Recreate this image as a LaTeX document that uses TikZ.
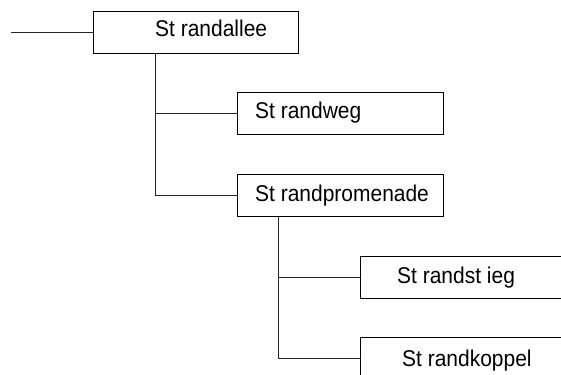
\documentclass[tikz,border=0pt]{standalone}
\usepackage{fontspec}
\setmainfont{Liberation Sans}[FakeStretch=0.92]
\begin{document}
\begin{tikzpicture}[x=1pt,y=-1pt,
  box/.style={draw=black,line width=1pt,rectangle,anchor=north west,
    minimum height=42pt,inner sep=0pt,outer sep=0pt},
  lbl/.style={anchor=base west,inner sep=0pt,font=\fontsize{22.8}{24}\selectfont},
  link/.style={draw=black!85,line width=1pt}]
\useasboundingbox (0,0) rectangle (561,374);
\clip (0,0) rectangle (561,374);
\fill[white] (0,0) rectangle (561,374);

% boxes
\node[box,minimum width=205pt] (allee)  at (93.5,11.5)  {};
\node[box,minimum width=206pt] (weg)    at (237.5,92.5) {};
\node[box,minimum width=206pt] (prom)   at (237.5,174.5) {};
\node[box,minimum width=210pt] (stieg)  at (360.5,256.5) {};
\node[box,minimum width=210pt] (koppel) at (360.5,337.5) {};

% labels
\node[lbl] (tallee)  at (155,37)  {St randallee};
\node[lbl] (tweg)    at (255,119) {St randweg};
\node[lbl] (tprom)   at (255,201) {St randpromenade};
\node[lbl] (tstieg)  at (397,283) {St randst ieg};
\node[lbl] (tkoppel) at (402,366) {St randkoppel};

% connectors
\coordinate (root) at (11,32.5);
\coordinate (a1) at (155.5,53.5);
\coordinate (p1) at (278.5,216.5);
\draw[link] (root) -- (allee.west);
\draw[link] (a1) |- (weg.west);
\draw[link] (a1) |- (prom.west);
\draw[link] (p1) |- (stieg.west);
\draw[link] (p1) |- (koppel.west);
\end{tikzpicture}
\end{document}
